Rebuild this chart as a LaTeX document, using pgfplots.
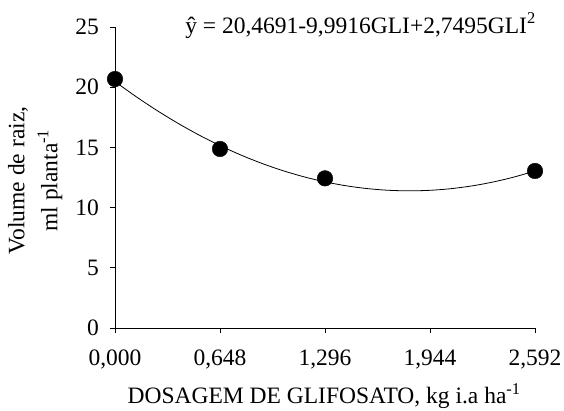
\documentclass[border=0pt]{standalone}
\usepackage{fontspec}
\setmainfont{Liberation Serif}
\usepackage{pgfplots}
\pgfplotsset{compat=1.18}
\begin{document}
\fontsize{23.5}{33}\selectfont
\begin{tikzpicture}
\begin{axis}[
  scale only axis,
  width=420pt, height=301pt,
  at={(0,0)}, anchor=south west,
  xmin=0, xmax=2.592, ymin=0, ymax=25,
  axis x line*=bottom, axis y line*=left,
  axis line style={line width=0.9pt},
  xtick={0,0.648,1.296,1.944,2.592},
  xticklabels={{0,000},{0,648},{1,296},{1,944},{2,592}},
  ytick={0,5,10,15,20,25},
  tick align=outside, major tick length=5pt,
  tick style={line width=0.9pt, black},
  /pgf/number format/assume math mode=true,
  ticklabel style={font=\fontsize{23.5}{26}\selectfont},
  xticklabel style={yshift=-9pt},
  yticklabel style={xshift=-3pt},
  xlabel={DOSAGEM DE GLIFOSATO, kg i.a ha\textsuperscript{-1}},
  xlabel style={at={(axis description cs:0.498,0)}, anchor=base, yshift=-76pt, font=\fontsize{23.5}{26}\selectfont},
  ylabel={Volume de raiz,\\ml planta\textsuperscript{-1}},
  ylabel style={at={(axis description cs:-0.19,0.49)}, anchor=center, align=center, font=\fontsize{23.5}{33}\selectfont},
  clip=false,
]
\addplot[black, line width=0.8pt, smooth] coordinates {
(0,20.4691) (0.1296,19.2204) (0.2592,18.0640) (0.3888,17.0000) (0.5184,16.0285)
(0.648,15.1491) (0.7776,14.3623) (0.9072,13.6674) (1.0368,13.0650) (1.1664,12.5556)
(1.296,12.1381) (1.4256,11.8130) (1.5552,11.5802) (1.6848,11.4399) (1.8144,11.3918)
(1.944,11.4362) (2.0736,11.5729) (2.2032,11.8019) (2.3328,12.1234) (2.4624,12.5371)
(2.592,13.0433)
};
\addplot[only marks, mark=*, mark size=7.8pt, black] coordinates {
(0,20.68) (0.648,14.87) (1.296,12.43) (2.592,13.04)
};
\node[anchor=base east, inner sep=0pt, font=\fontsize{23.5}{26}\selectfont] at (axis cs:2.598,24.5) {ŷ = 20,4691-9,9916GLI+2,7495GLI\textsuperscript{2}};
\end{axis}
\pgfresetboundingbox
\path (-115pt,-83pt) rectangle (449pt,328pt);
\end{tikzpicture}
\end{document}
